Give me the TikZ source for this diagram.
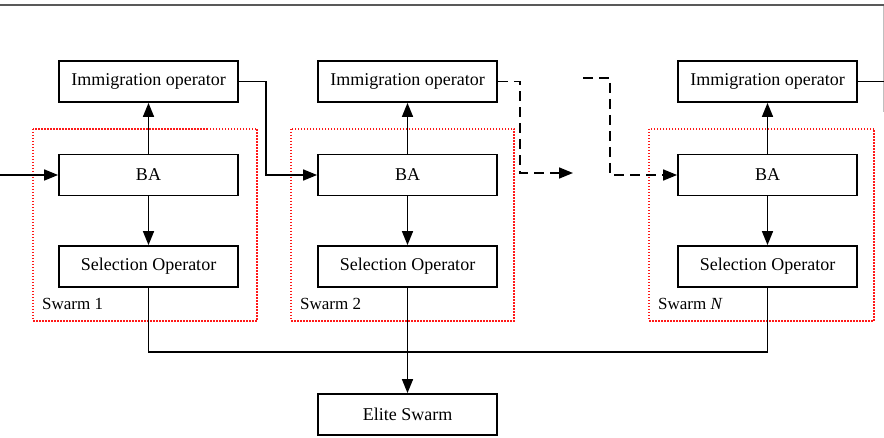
\documentclass[tikz,border=0pt]{standalone}
\usepackage{fontspec}
\setmainfont{Liberation Serif}
\usetikzlibrary{arrows.meta,calc}
\begin{document}
\begin{tikzpicture}[x=1pt,y=-1pt,
  blk/.style={draw=black,line width=1.8pt,minimum width=179pt,minimum height=41pt,inner sep=0pt,
    font=\fontsize{18}{21}\selectfont},
  conn/.style={draw=black,line width=1.6pt},
  arr/.style={conn,-{Triangle[length=14pt,width=11pt]}},
  dsh/.style={arr,dash pattern=on 10pt off 6pt},
  swarmbox/.style={draw=red!90,line width=1.1pt,dash pattern=on 1.5pt off 1.5pt},
  swlabel/.style={anchor=west,inner sep=0pt,font=\fontsize{17}{20}\selectfont}
]
\useasboundingbox (0,0) rectangle (884,438);
% frame remnants
\draw[gray!70!black,line width=2pt] (0,5.5) -- (884,5.5);
\draw[gray!50,line width=1pt] (883.3,6) -- (883.3,112);

% swarm boxes
\draw[swarmbox] (33,129) rectangle (257,321);
\draw[swarmbox] (291,129) rectangle (514,321);
\draw[swarmbox] (649,129) rectangle (874,321);

% swarm 1
\node[blk] (imm1) at (148.5,81.5) {Immigration operator};
\node[blk] (ba1)  at (148.5,175) {BA};
\node[blk] (sel1) at (148.5,266.5) {Selection Operator};
\node[swlabel] (lab1) at (42,304) {Swarm 1};
% swarm 2
\node[blk] (imm2) at (407.5,81.5) {Immigration operator};
\node[blk] (ba2)  at (407.5,175) {BA};
\node[blk] (sel2) at (407.5,266.5) {Selection Operator};
\node[swlabel] (lab2) at (300,304) {Swarm 2};
% swarm N
\node[blk] (immN) at (767.5,81.5) {Immigration operator};
\node[blk] (baN)  at (767.5,175) {BA};
\node[blk] (selN) at (767.5,266.5) {Selection Operator};
\node[swlabel] (labN) at (658,304) {Swarm \textit{N}};
% elite
\node[blk] (elite) at (407.5,414.5) {Elite Swarm};

% inner arrows
\foreach \s in {1,2,N}{
  \draw[arr] (ba\s.north) -- (imm\s.south);
  \draw[arr] (ba\s.south) -- (sel\s.north);
}

% input
\coordinate (in) at (0,175);
\draw[arr] (in) -- (ba1.west);
% migration 1 -> 2
\draw[arr] (imm1.east) -- ++(27,0) |- (ba2.west);
% dashed migrations
\coordinate (dend) at (573,173);
\coordinate (dstart) at (583,78);
\draw[dsh] (imm2.east) -- ++(22,0) |- (dend);
\draw[dsh] (dstart) -- ++(27,0) |- (baN.west);
% immigration N out
\coordinate (outN) at (884,81.5);
\draw[conn] (immN.east) -- (outN);

% bus to elite
\draw[conn] (sel1.south) -- ++(0,64) -| (selN.south);
\draw[arr] (sel2.south) -- (elite.north);
\end{tikzpicture}
\end{document}
